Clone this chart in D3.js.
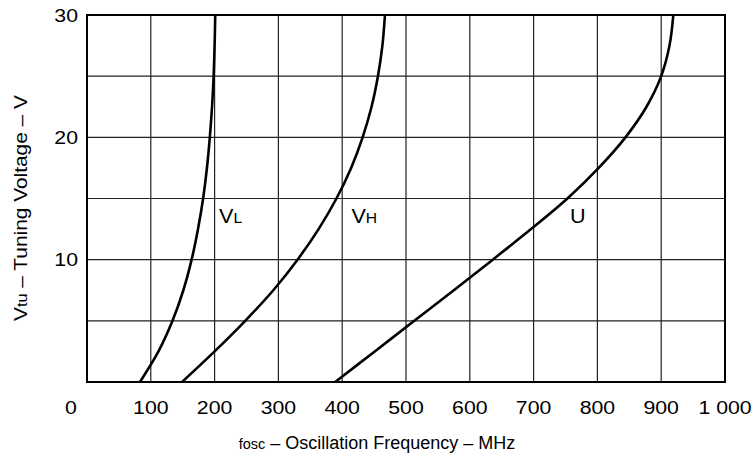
<!DOCTYPE html>
<html>
<head>
<meta charset="utf-8">
<script src="https://cdn.jsdelivr.net/npm/d3@7"></script>
<style>
  html, body { margin: 0; padding: 0; background: #fff; }
  text { font-family: "Liberation Sans", Arial, sans-serif; fill: #000; }
</style>
</head>
<body>
<svg id="chart" width="754" height="456"></svg>
<script>
// ---- data (frequency MHz, tuning voltage V) ----
const voltages = [0,2.5,5,7.5,10,12.5,15,17.5,20,22.5,25,27.5,30];
const freqVL = [83,112,134,151,164,174,182,188,192.5,196,198.5,200,201];
const freqVH = [149,200,248,292,330,363,391,414,432,446,456,463,467];
const freqU  = [389,451,513,575,636,696,753,802,844,877,900,913,919];

const xTicks = [0,100,200,300,400,500,600,700,800,900,1000];
const xTickLabels = ["0","100","200","300","400","500","600","700","800","900","1 000"];
const yGrid = [5,10,15,20,25];
const yTicks = [10,20,30];
const yTickLabels = ["10","20","30"];

const curveLabels = [
  {main:"V", sub:"L", f:207, v:13.0},
  {main:"V", sub:"H", f:414.5, v:13.0},
  {main:"U", sub:"",  f:757, v:13.0}
];

// ---- layout ----
const svg = d3.select("#chart");
const mLeft = 87, mRight = 725, mTop = 15, mBottom = 382;
const x = d3.scaleLinear().domain([0,1000]).range([mLeft,mRight]);
const y = d3.scaleLinear().domain([0,30]).range([mBottom,mTop]);
const stretch = 1.15;

// grid
const grid = svg.append("g");
grid.selectAll("line.vx").data(xTicks.slice(1,-1)).enter().append("line")
  .attr("x1",d=>x(d)).attr("x2",d=>x(d)).attr("y1",mTop).attr("y2",mBottom)
  .attr("stroke","#222").attr("stroke-width",1.2);
grid.selectAll("line.hy").data(yGrid).enter().append("line")
  .attr("x1",mLeft).attr("x2",mRight).attr("y1",d=>y(d)).attr("y2",d=>y(d))
  .attr("stroke","#222").attr("stroke-width",1.2);

// frame
svg.append("rect").attr("x",mLeft).attr("y",mTop).attr("width",mRight-mLeft).attr("height",mBottom-mTop)
  .attr("fill","none").attr("stroke","#000").attr("stroke-width",2);

// curves
const line = d3.line().x(d=>x(d[0])).y(d=>y(d[1])).curve(d3.curveCatmullRom.alpha(0.5));
[freqVL, freqVH, freqU].forEach(fs=>{
  const pts = fs.map((f,i)=>[f, voltages[i]]);
  svg.append("path").datum(pts).attr("d",line)
    .attr("fill","none").attr("stroke","#000").attr("stroke-width",2.6);
});

// x tick labels
svg.append("g").selectAll("text").data(xTicks).enter().append("text")
  .attr("transform",(d,i)=>`translate(${i===0 ? x(d)-16 : x(d)},414) scale(${stretch},1)`)
  .attr("text-anchor","middle")
  .attr("font-size",18.5)
  .text((d,i)=>xTickLabels[i]);

// y tick labels
svg.append("g").selectAll("text").data(yTicks).enter().append("text")
  .attr("transform",d=>`translate(${mLeft-9},${y(d)+6.7}) scale(${stretch},1)`)
  .attr("text-anchor","end")
  .attr("font-size",18.5)
  .text((d,i)=>yTickLabels[i]);

// curve labels
curveLabels.forEach(l=>{
  const t = svg.append("text")
    .attr("transform",`translate(${x(l.f)},${y(l.v)}) scale(1.08,1)`)
    .attr("font-size",20);
  t.append("tspan").text(l.main);
  if (l.sub) t.append("tspan").attr("font-size",14.5).text(l.sub);
});

// x title
const xt = svg.append("text").attr("x",377).attr("y",449).attr("text-anchor","middle").attr("font-size",18);
xt.append("tspan").attr("font-size",14.5).text("fosc");
xt.append("tspan").text(" – Oscillation Frequency – MHz");

// y title
const yt = svg.append("text").attr("transform","translate(27,208) rotate(-90) scale(1.16,1)").attr("text-anchor","middle").attr("font-size",18);
yt.append("tspan").text("V");
yt.append("tspan").attr("font-size",14).text("tu");
yt.append("tspan").text(" – Tuning Voltage – V");
</script>
</body>
</html>
